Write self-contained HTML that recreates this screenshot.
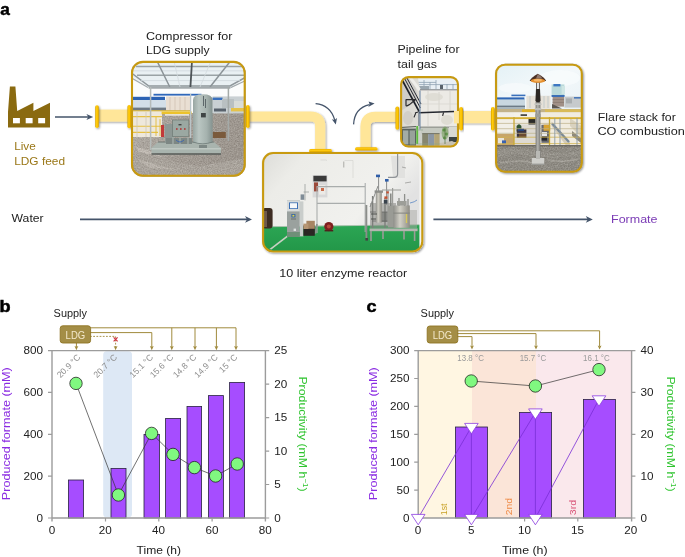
<!DOCTYPE html>
<html><head><meta charset="utf-8"><title>Figure</title>
<style>
html,body{margin:0;padding:0;background:#fff;overflow:hidden;}
svg{display:block;font-family:"Liberation Sans", sans-serif;}
</style></head><body>
<svg width="685" height="557" viewBox="0 0 685 557">
<defs>
<linearGradient id="flg" x1="0" y1="0" x2="1" y2="0">
<stop offset="0" stop-color="#d9a300"/><stop offset="0.38" stop-color="#ffcd0a"/><stop offset="0.62" stop-color="#ffc400"/><stop offset="1" stop-color="#cf9b00"/>
</linearGradient>
<linearGradient id="flgv" x1="0" y1="0" x2="0" y2="1">
<stop offset="0" stop-color="#f0b400"/><stop offset="0.45" stop-color="#ffc90a"/><stop offset="1" stop-color="#dfa300"/>
</linearGradient>
<filter id="sh" x="-10%" y="-10%" width="125%" height="125%">
<feGaussianBlur in="SourceAlpha" stdDeviation="1.1"/><feOffset dx="1" dy="1.3" result="o"/>
<feComponentTransfer><feFuncA type="linear" slope="0.45"/></feComponentTransfer>
<feMerge><feMergeNode/><feMergeNode in="SourceGraphic"/></feMerge>
</filter>
<filter id="sh2" x="-10%" y="-10%" width="125%" height="125%">
<feGaussianBlur in="SourceAlpha" stdDeviation="0.9"/><feOffset dx="0.8" dy="1.2" result="o"/>
<feComponentTransfer><feFuncA type="linear" slope="0.4"/></feComponentTransfer>
<feMerge><feMergeNode/><feMergeNode in="SourceGraphic"/></feMerge>
</filter>
<filter id="nz" x="0" y="0" width="100%" height="100%" color-interpolation-filters="sRGB"><feTurbulence type="fractalNoise" baseFrequency="0.85" numOctaves="2" seed="4"/><feColorMatrix type="matrix" values="0 0 0 0 0.32  0 0 0 0 0.29  0 0 0 0 0.27  0.3 0.3 0.3 0 -0.37"/></filter>
<filter id="nzl" x="0" y="0" width="100%" height="100%" color-interpolation-filters="sRGB"><feTurbulence type="fractalNoise" baseFrequency="0.7" numOctaves="2" seed="9"/><feColorMatrix type="matrix" values="0 0 0 0 0.95  0 0 0 0 0.94  0 0 0 0 0.92  0.3 0.3 0.3 0 -0.376"/></filter>
</defs>
<text x="0" y="0" font-size="17.2" font-weight="bold" fill="#000" stroke="#000" stroke-width="0.5" transform="translate(0.2 14.5) scale(1.0 1)">a</text>
<path d="M8,127.5 L8,112 L9.9,86.5 L15.4,86.5 L17.2,111 L33.4,102.8 L33.4,111 L50,102.8 L50,127.5 Z" fill="#8a6a10"/>
<rect x="13" y="118" width="6.9" height="5.3" fill="#fff"/>
<rect x="25.7" y="118" width="6.9" height="5.3" fill="#fff"/>
<rect x="38.2" y="118" width="6.9" height="5.3" fill="#fff"/>
<text x="14.2" y="150.4" font-size="11.8" fill="#9a7717" textLength="21.6" lengthAdjust="spacingAndGlyphs">Live</text>
<text x="14.2" y="164.6" font-size="11.8" fill="#9a7717" textLength="50.8" lengthAdjust="spacingAndGlyphs">LDG feed</text>
<path d="M55,117 L89.12,117" stroke="#44546a" stroke-width="1.6" fill="none"/>
<path d="M93.2,117 L86.4,113.9 L88.304,117 L86.4,120.1 Z" fill="#44546a"/>
<g filter="url(#sh2)">
<rect x="98" y="109.6" width="31" height="12" fill="#ffe699"/>
<path d="M248,116.5 L310.6,116.5 Q320.2,116.5 320.2,126 L320.2,150" stroke="#ffe699" stroke-width="10.2" fill="none"/>
<path d="M365.5,148 L365.5,126.6 Q365.5,116.9 375.2,116.9 L397,116.9" stroke="#ffe699" stroke-width="10.2" fill="none"/>
<rect x="461" y="111" width="32" height="12.2" fill="#ffe699"/>
</g>
<g filter="url(#sh2)">
<rect x="95.2" y="105.2" width="3.6" height="22.799999999999997" rx="1.8" fill="url(#flg)"/>
<rect x="127.4" y="105" width="3.6" height="23.30000000000001" rx="1.8" fill="url(#flg)"/>
<rect x="246" y="105" width="3.6" height="23" rx="1.8" fill="url(#flg)"/>
<rect x="309" y="149" width="23" height="3.4" rx="1.7" fill="url(#flgv)"/>
<rect x="355" y="147.2" width="22.600000000000023" height="3.4" rx="1.7" fill="url(#flgv)"/>
<rect x="395.5" y="106.4" width="3.6" height="23.400000000000006" rx="1.8" fill="url(#flg)"/>
<rect x="491" y="107.1" width="3.7" height="23.30000000000001" rx="1.85" fill="url(#flg)"/>
</g>
<path d="M315.6,103.6 Q330.5,105 334.7,120" stroke="#44546a" stroke-width="1.25" fill="none"/>
<path d="M335.8,124.4 L331.8,119.2 L334.5,120 L337,118 Z" fill="#44546a"/>
<path d="M353.6,124.4 Q354.5,108 369.6,104.7" stroke="#44546a" stroke-width="1.25" fill="none"/>
<path d="M374.6,103.6 L368.6,101.6 L369.7,104.5 L368.2,107 Z" fill="#44546a"/>
<text x="11.6" y="222" font-size="11.8" fill="#222" textLength="32" lengthAdjust="spacingAndGlyphs">Water</text>
<path d="M80,219.4 L247.8,219.4" stroke="#44546a" stroke-width="1.7" fill="none"/>
<path d="M252,219.4 L245,216.1 L246.96,219.4 L245,222.70000000000002 Z" fill="#44546a"/>
<path d="M433.4,219.4 L588.5999999999999,219.4" stroke="#44546a" stroke-width="1.7" fill="none"/>
<path d="M592.8,219.4 L585.8,216.1 L587.76,219.4 L585.8,222.70000000000002 Z" fill="#44546a"/>
<text x="611" y="223.3" font-size="11.8" fill="#7a3ab5" textLength="46.5" lengthAdjust="spacingAndGlyphs">Formate</text>
<text x="146" y="40" font-size="11.8" fill="#222" textLength="86.4" lengthAdjust="spacingAndGlyphs">Compressor for</text>
<text x="146" y="53.6" font-size="11.8" fill="#222" textLength="63.6" lengthAdjust="spacingAndGlyphs">LDG supply</text>
<text x="397.6" y="53" font-size="11.8" fill="#222" textLength="62" lengthAdjust="spacingAndGlyphs">Pipeline for</text>
<text x="397.6" y="68" font-size="11.8" fill="#222" textLength="39.4" lengthAdjust="spacingAndGlyphs">tail gas</text>
<text x="597.8" y="120.6" font-size="11.8" fill="#222" textLength="78" lengthAdjust="spacingAndGlyphs">Flare stack for</text>
<text x="597.4" y="134.6" font-size="11.8" fill="#222" textLength="87.4" lengthAdjust="spacingAndGlyphs">CO combustion</text>
<text x="279.2" y="277.3" font-size="11.8" fill="#222" textLength="128" lengthAdjust="spacingAndGlyphs">10 liter enzyme reactor</text>
<rect x="131" y="60.9" width="114.7" height="115.9" rx="12" fill="#a8a199"/>
<clipPath id="cp1"><rect x="132" y="61.9" width="112.7" height="113.9" rx="11"/></clipPath>
<g clip-path="url(#cp1)">
<linearGradient id="p1g" x1="0" y1="0" x2="1" y2="0.3"><stop offset="0" stop-color="#b4afa8"/><stop offset="0.55" stop-color="#a29b93"/><stop offset="1" stop-color="#9b948c"/></linearGradient>
<linearGradient id="tank" x1="0" y1="0" x2="1" y2="0"><stop offset="0" stop-color="#98a6a2"/><stop offset="0.3" stop-color="#bac6c2"/><stop offset="0.7" stop-color="#a5b2ae"/><stop offset="1" stop-color="#84928f"/></linearGradient>
<rect x="131" y="61" width="116" height="60" fill="#fbfcfc"/>
<rect x="131" y="113" width="116" height="65" fill="url(#p1g)"/>
<path d="M131,150 L160,160 L200,166 L246,158 L246,178 L131,178 Z" fill="#aaa49c"/>
<path d="M134,146 L150,151 L165,158 L140,152 Z" fill="#c4beb6"/>
<path d="M135,158 L160,166 L180,170 L150,168 Z" fill="#bab4ac"/>
<rect x="131" y="113" width="116" height="65" fill="#000" filter="url(#nz)"/>
<rect x="131" y="113" width="116" height="65" fill="#000" filter="url(#nzl)"/>
<rect x="131" y="100" width="35" height="8" fill="#d3dfe8"/>
<rect x="131" y="96.8" width="34" height="3.2" fill="#2b62b3"/>
<rect x="153.5" y="93.8" width="48" height="1.8" fill="#2f68ba"/>
<rect x="131" y="107.6" width="35" height="3" fill="#6f7a84"/>
<rect x="166" y="96.4" width="24" height="15" fill="#e9dfd3"/>
<path d="M170,97 V111 M175,97 V111 M180,97 V111 M185,97 V111" fill="none" stroke="#c9b9a8" stroke-width="0.6"/>
<rect x="212.5" y="96.4" width="34" height="17" fill="#c9d0d3"/>
<rect x="212.5" y="97.6" width="10" height="2.4" fill="#3a70bd"/>
<rect x="222" y="99" width="12" height="9" fill="#b9c0c2"/>
<rect x="234" y="101" width="12" height="8" fill="#d9dcd8"/>
<rect x="214" y="108.5" width="12" height="3" fill="#59626c"/>
<rect x="231" y="108" width="15" height="3.4" fill="#e5c24a"/>
<rect x="131" y="111" width="31" height="26" fill="#eee8dc"/>
<path d="M131,116.6 H162 M131,126.2 H162 M131,132.4 H158" fill="none" stroke="#e6c043" stroke-width="1.1"/>
<path d="M137,112 V137 M146,112 V137" fill="none" stroke="#cfc8b8" stroke-width="0.8"/>
<rect x="131" y="110.2" width="60" height="1.1" fill="#d5b23a"/>
<rect x="161.6" y="111.4" width="30" height="2.8" fill="#ecc22c"/>
<rect x="165" y="114.2" width="24" height="1.4" fill="#f5f1e6"/>
<path d="M156,117 V136 M160,119 V136" fill="none" stroke="#e0bb3a" stroke-width="0.9"/>
<path d="M131,61 H247 V78 L230,87.2 H148.6 L131,76 Z" fill="#e9f0f3"/>
<path d="M131,72.6 L148.8,86 H230 L247,76.6" fill="none" stroke="#8f979b" stroke-width="1.5"/>
<path d="M131,77.6 L148,87.6 M230.6,87.6 L247,80" fill="none" stroke="#a4abae" stroke-width="1.2"/>
<path d="M136,66.6 H247 M137,75.2 H247" fill="none" stroke="#9aa2a5" stroke-width="1.5"/>
<path d="M134,70.8 H247 M141,80.6 H240" fill="none" stroke="#cfd8dc" stroke-width="0.8"/>
<path d="M157,61 L169.8,87 M230.5,61 L210,87" fill="none" stroke="#8c9498" stroke-width="1.5"/>
<path d="M174,61 L180,87 M211,61 L200,87" fill="none" stroke="#d3dbde" stroke-width="0.8"/>
<path d="M192,61 L190.4,87" fill="none" stroke="#4e5458" stroke-width="1.8"/>
<path d="M148.6,87.9 H230.4" fill="none" stroke="#a3aaad" stroke-width="1.8"/>
<path d="M150.6,87 V150" fill="none" stroke="#b5bbb9" stroke-width="1.5"/>
<path d="M228.4,87 V141" fill="none" stroke="#a4aaa8" stroke-width="1.5"/>
<path d="M190.6,94 V141" fill="none" stroke="#b9c4c8" stroke-width="1.3"/>
<rect x="212.8" y="132" width="13" height="6" fill="#7a5a3c"/>
<path d="M151.5,148 L158,142 H214 L221,148 V153.4 H151.5 Z" fill="#a9b4ae"/>
<rect x="151.5" y="148.2" width="69.5" height="1.2" fill="#c5cec9"/>
<rect x="151.5" y="153.2" width="69.5" height="1.6" fill="#5d625e"/>
<path d="M158,142 H214" fill="none" stroke="#6c7470" stroke-width="1"/>
<rect x="165" y="124" width="9" height="19" fill="#8d9894"/>
<rect x="166" y="138" width="26" height="6" fill="#7d8784"/>
<rect x="161" y="125" width="3" height="12" fill="#c23a3a"/>
<rect x="172.6" y="120" width="16.2" height="16.6" fill="#9ba8a2"/>
<rect x="172.6" y="120" width="16.2" height="16.6" fill="none" stroke="#6f7b76" stroke-width="0.7"/>
<rect x="178.5" y="124" width="3" height="1.4" fill="#444"/>
<path d="M176,129 h1.6 M180,129 h1.6 M184,129 h1.6" fill="none" stroke="#b03030" stroke-width="1.4"/>
<path d="M173,137 V148 M188,137 V148 M180,137 V148" fill="none" stroke="#a8b2ad" stroke-width="1.2"/>
<path d="M176,140 q4,4 8,0" fill="none" stroke="#3d68b0" stroke-width="0.9"/>
<path d="M193,142 V100 Q193,94.2 202.8,94.2 Q212.6,94.2 212.6,100 V142 Q202.8,145.4 193,142 Z" fill="url(#tank)"/>
<path d="M193,142 Q202.8,145.6 212.6,142" fill="none" stroke="#6f7b78" stroke-width="0.8"/>
<rect x="201" y="113" width="4.8" height="4.4" fill="#3f4545"/>
<path d="M203.5,96 V106 M205.5,99 V108" fill="none" stroke="#555f62" stroke-width="0.9"/>
<rect x="199" y="145" width="8" height="3" fill="#7d8885"/>
</g>
<rect x="132" y="61.9" width="112.7" height="113.9" rx="11" fill="none" stroke="#c89a10" stroke-width="2.1"/>
<rect x="262.1" y="152" width="161.2" height="100.5" rx="11" fill="#e8e8e4" filter="url(#sh)"/>
<clipPath id="cp2"><rect x="263.1" y="153" width="159.2" height="98.5" rx="10"/></clipPath>
<g clip-path="url(#cp2)">
<linearGradient id="wall" x1="0" y1="0" x2="1" y2="0.4"><stop offset="0" stop-color="#dcdcd8"/><stop offset="0.25" stop-color="#ececE8"/><stop offset="0.8" stop-color="#f1f1ee"/><stop offset="1" stop-color="#e2e2e2"/></linearGradient>
<linearGradient id="flr" x1="0" y1="0" x2="0" y2="1"><stop offset="0" stop-color="#2ca654"/><stop offset="1" stop-color="#229648"/></linearGradient>
<linearGradient id="steel" x1="0" y1="0" x2="1" y2="0"><stop offset="0" stop-color="#8f8f8a"/><stop offset="0.4" stop-color="#d2d0c6"/><stop offset="1" stop-color="#8e8c84"/></linearGradient>
<rect x="262" y="151" width="163" height="76" fill="url(#wall)"/>
<path d="M262,226.6 L424,224.4 V253 H262 Z" fill="url(#flr)"/>
<path d="M262,226.8 L424,224.6" fill="none" stroke="#bfc7bd" stroke-width="0.8"/>
<path d="M320.5,160 h6 v0.6 M344.5,160.5 h8.5 V178" fill="none" stroke="#d0d0cc" stroke-width="0.6"/>
<rect x="343" y="161.5" width="1.4" height="6" fill="#bdbdb9"/>
<path d="M391,156 h14 v22 h-12 z" fill="#e1e1df"/>
<path d="M397.6,152 V174 Q397.6,177.4 394,177.4 H388" fill="none" stroke="#8f9397" stroke-width="1.2"/>
<path d="M402,167 l4,1 M405,183 l6,-1" fill="none" stroke="#9a9a98" stroke-width="0.8"/>
<rect x="262" y="208" width="10.6" height="20.4" fill="#3d2c22" rx="3"/>
<rect x="264" y="211" width="3" height="16" fill="#6e5a4c"/>
<path d="M287,235.4 L269.4,249 L271.4,249.6 L289,236 Z" fill="#c9cfc3"/>
<rect x="312.6" y="175" width="14.8" height="22.4" fill="#d9d9d9"/>
<rect x="313.4" y="175.8" width="13.2" height="5.6" fill="#3a3a3a"/>
<rect x="314" y="182.4" width="4" height="9" fill="#9b4a3a"/>
<rect x="319" y="185" width="6.4" height="9.6" fill="#eceae6"/>
<rect x="321" y="188" width="3" height="3" fill="#c96a4a"/>
<path d="M317,186.6 V233 M316.6,186.6 H365.4 M317,203.4 H365.4 M365.2,183 V232" fill="none" stroke="#a9adac" stroke-width="1.1"/>
<path d="M317,224 l-1.6,9.6" fill="none" stroke="#8c908f" stroke-width="1.6"/>
<rect x="287" y="200.4" width="12.8" height="36.6" fill="#9aa19e"/>
<rect x="299.8" y="201.4" width="3.6" height="35" fill="#c9cdcb"/>
<rect x="287" y="200.4" width="12.8" height="11" fill="#d7dbdb"/>
<rect x="289" y="202.4" width="9" height="6.6" fill="#3d6fb3"/>
<rect x="290" y="203.2" width="7" height="5" fill="#f6f8fa"/>
<rect x="291.4" y="214" width="4" height="3.4" fill="#2f62a8"/>
<rect x="292.4" y="214.8" width="2" height="1.8" fill="#e6d24a"/>
<rect x="291" y="218.6" width="5" height="0.8" fill="#5d6462"/>
<rect x="293.6" y="228.6" width="2.4" height="2.4" fill="#dfe3e1"/>
<rect x="287" y="232" width="12.8" height="5" fill="#6f8f78"/>
<path d="M305,184 V200.4 M303.6,192 h5.4" fill="none" stroke="#9a9e9d" stroke-width="0.8"/>
<rect x="300.6" y="194.4" width="3.6" height="5.4" fill="#7f8c96"/>
<rect x="303.4" y="225.4" width="11.4" height="10.4" fill="#2b2724"/>
<rect x="306.4" y="220.8" width="8.4" height="8" fill="#a78563"/>
<rect x="303.4" y="223.6" width="5" height="5.4" fill="#b79673"/>
<circle cx="328.8" cy="226.6" r="4.6" fill="#7e1f1f"/><circle cx="328.8" cy="226.6" r="2" fill="#b54a3a"/>
<rect x="324.6" y="230" width="8.6" height="1.4" fill="#50201c"/>
<rect x="369.6" y="228.4" width="48" height="2.8" fill="#b5b6b1"/>
<path d="M371,231 V241 M383,231 V239 M404,231 V239.6 M414.6,231 V241" fill="none" stroke="#9b9c98" stroke-width="1.6"/>
<path d="M366.4,205 V238" fill="none" stroke="#8b8d8a" stroke-width="1.8"/>
<rect x="365.4" y="238" width="2.6" height="2.6" fill="#444"/>
<rect x="370" y="203" width="26" height="25.4" fill="#8f908a" opacity="0.6"/>
<rect x="396" y="210" width="21" height="18" fill="#a9aaa4" opacity="0.5"/>
<path d="M372.6,196 V228 M385,198 V228 M390.8,193.6 V226" fill="none" stroke="#7d7f7b" stroke-width="1.4"/>
<path d="M370,212 H396 M372,221 H394" fill="none" stroke="#6f716d" stroke-width="0.9"/>
<rect x="379" y="212" width="10" height="10" fill="#5f615e" opacity="0.5"/>
<rect x="375.8" y="191.6" width="6" height="31" fill="url(#steel)"/>
<rect x="374.6" y="190.4" width="8.4" height="2.4" fill="#8d8e89"/>
<path d="M378.6,176 V191 M370,207 L378,186 M386.6,181 V205" fill="none" stroke="#8a8c8a" stroke-width="1"/>
<rect x="376" y="174.6" width="4" height="2.6" fill="#2f5ea8"/>
<rect x="385" y="179" width="3.6" height="2.6" fill="#2f5ea8"/>
<path d="M382,190 H401 M388,190 V226 M392.6,188 V212" fill="none" stroke="#9c9d99" stroke-width="1.2"/>
<rect x="384.4" y="196.4" width="3" height="2.4" fill="#c8502e"/>
<rect x="386.4" y="191.4" width="2.4" height="2" fill="#c8502e"/>
<rect x="383.8" y="200" width="3.6" height="3.6" fill="#39434d"/>
<rect x="388" y="206" width="7" height="21.4" fill="#9a9b95"/>
<rect x="393.4" y="205.4" width="16.4" height="22.4" fill="url(#steel)"/>
<rect x="393.4" y="212.6" width="16.4" height="1" fill="#84857f"/>
<rect x="405.8" y="214" width="1.4" height="9" fill="#d8c75a"/>
<path d="M399,198 V206 M404.6,194 V206 M408,199 V206" fill="none" stroke="#8e908c" stroke-width="1.3"/>
<path d="M410,203 q5,-1 7,-3" fill="none" stroke="#5a86c4" stroke-width="0.8"/>
<rect x="397" y="201" width="9.6" height="4.6" fill="#9d9e98"/>
<path d="M371,214 h6 M371,219 h5" fill="none" stroke="#50524f" stroke-width="1.2"/>
<rect x="419.4" y="151" width="3" height="102" fill="#f4f4f2"/>
</g>
<rect x="263.1" y="153" width="159.2" height="98.5" rx="10" fill="none" stroke="#c89a10" stroke-width="2.1"/>
<rect x="400.1" y="76.1" width="58.9" height="71.4" rx="8.5" fill="#dcdad4"/>
<clipPath id="cp3"><rect x="401.1" y="77.1" width="56.9" height="69.4" rx="7.5"/></clipPath>
<g clip-path="url(#cp3)">
<rect x="399" y="76" width="61" height="72" fill="#e3e1dc"/>
<rect x="417.6" y="76" width="42" height="14" fill="#e9f0f5"/>
<path d="M418,82.4 H436 M418,84.6 H458 M424,80 V89 M430,82 V89 M436,80 V89 M447,84 V89 M453,84 V89" fill="none" stroke="#8fa2b3" stroke-width="0.8"/>
<rect x="419" y="86" width="10" height="3.4" fill="#9aa7b0"/>
<rect x="440" y="85" width="3" height="4" fill="#59626b"/>
<path d="M399,76 H417.6 L420,90 V127 L399,131 Z" fill="#dedcd6"/>
<path d="M399,76 H412 L419,100 L399,112 Z" fill="#cfcdc8"/>
<path d="M409,76 L419.6,90" fill="none" stroke="#efeeea" stroke-width="3"/>
<rect x="420" y="90" width="40" height="37" fill="#eceae5"/>
<path d="M420,89.8 H459" fill="none" stroke="#6f7376" stroke-width="0.9"/>
<path d="M428,91 V126 M439,92 V120 M450,91 V112" fill="none" stroke="#d3d0c9" stroke-width="0.8"/>
<path d="M420,104 H459" fill="none" stroke="#d9d6cf" stroke-width="0.7"/>
<ellipse cx="408" cy="118" rx="5" ry="7" fill="#c9c6be" opacity="0.6"/><ellipse cx="434" cy="97" rx="9" ry="4" fill="#dad7cf" opacity="0.7"/><ellipse cx="447" cy="120" rx="6" ry="5" fill="#d9d5cc" opacity="0.7"/>
<path d="M399,131 L420,127 H460 V148 H399 Z" fill="#cdd0c9"/>
<rect x="401.6" y="128.6" width="14.4" height="17" fill="#59635f"/>
<rect x="403" y="130.4" width="5.4" height="14" fill="#a3aca5"/>
<rect x="409.6" y="130.4" width="5.4" height="14" fill="#98a29b"/>
<path d="M401.6,127.4 L416,126.6" fill="none" stroke="#4f5651" stroke-width="1"/>
<rect x="420" y="126.6" width="40" height="1.2" fill="#83877f"/>
<rect x="421" y="127.8" width="38" height="6" fill="#c5c9c0"/>
<rect x="422.2" y="133.8" width="6" height="12" fill="#86866f"/>
<rect x="428.2" y="133.8" width="6" height="12" fill="#8c97a4"/>
<rect x="434.2" y="133.8" width="5.4" height="12" fill="#b3a577"/>
<path d="M422.2,133.6 H439.6" fill="none" stroke="#5f604e" stroke-width="0.8"/>
<rect x="449" y="127" width="10" height="10" fill="#d9dad4"/>
<rect x="449" y="137" width="10" height="5" fill="#3c4444"/>
<path d="M440,143 l12,-2 l6,3 v3 h-18 z" fill="#c7c2b4"/>
<ellipse cx="445" cy="133" rx="3.4" ry="6.6" fill="#6f9a52" opacity="0.55"/><circle cx="444" cy="130" r="1.6" fill="#4f8a3a" opacity="0.8"/><circle cx="446.4" cy="134" r="1.5" fill="#4f8a3a" opacity="0.8"/><circle cx="444.4" cy="138" r="1.4" fill="#4f8a3a" opacity="0.8"/>
<path d="M445,128 V144" fill="none" stroke="#55733f" stroke-width="0.7"/>
<path d="M401.6,79 L419.2,111.6" fill="none" stroke="#1d2129" stroke-width="1.7"/>
<path d="M404,77.4 L420.4,108 M406.4,77 L421,104" fill="none" stroke="#262a33" stroke-width="1"/>
<path d="M419,112.8 L454,111.4" fill="none" stroke="#23262e" stroke-width="1.5"/>
<path d="M405.6,99.6 H416 M406,100 V105 Q406,107 409.5,104.6 L415,100" fill="none" stroke="#2b2b2e" stroke-width="1.2"/>
<path d="M415.6,113.4 l-1.6,4 M443.6,112.4 l-1,3.4 M418,112 l-3,1" fill="none" stroke="#2b2b2e" stroke-width="1.2"/>
<path d="M420,90.6 V129.6" fill="none" stroke="#6e88a6" stroke-width="1.1"/>
<path d="M418.8,112 V126" fill="none" stroke="#4f5f72" stroke-width="0.8"/>
<path d="M417.2,126 V144" fill="none" stroke="#5fbb3e" stroke-width="1.9"/>
<path d="M415,130 H423 M410,144 H440" fill="none" stroke="#8fa58a" stroke-width="0.6"/>
</g>
<rect x="401.1" y="77.1" width="56.9" height="69.4" rx="7.5" fill="none" stroke="#c89a10" stroke-width="2.1"/>
<rect x="454" y="111" width="6" height="12.4" fill="#ffe699"/>
<g filter="url(#sh2)">
<rect x="459.2" y="107.1" width="3.8" height="23.30000000000001" rx="1.9" fill="url(#flg)"/>
</g>
<rect x="495.1" y="63.7" width="87.7" height="109.1" rx="10" fill="#a9a79d" filter="url(#sh)"/>
<clipPath id="cp4"><rect x="496.1" y="64.7" width="85.7" height="107.1" rx="9"/></clipPath>
<g clip-path="url(#cp4)">
<linearGradient id="sky4" x1="0" y1="0" x2="1" y2="1"><stop offset="0" stop-color="#e3f1f6"/><stop offset="0.5" stop-color="#f3f8fa"/><stop offset="1" stop-color="#e9f2f6"/></linearGradient>
<linearGradient id="pole" x1="0" y1="0" x2="1" y2="0"><stop offset="0" stop-color="#7c7c78"/><stop offset="0.45" stop-color="#b4b4b0"/><stop offset="1" stop-color="#767672"/></linearGradient>
<rect x="495" y="63" width="89" height="48" fill="url(#sky4)"/>
<ellipse cx="560" cy="78" rx="20" ry="8" fill="#f8fbfc" opacity="0.8"/><ellipse cx="515" cy="88" rx="16" ry="5" fill="#f6fafb" opacity="0.8"/>
<rect x="495" y="99" width="30" height="7" fill="#c9d7e0"/>
<rect x="495" y="97.4" width="29.4" height="2" fill="#2f66b4"/>
<rect x="511.4" y="94.6" width="14" height="1.6" fill="#3a70bb"/>
<rect x="495" y="105.6" width="30" height="1.4" fill="#6d7a86"/>
<rect x="495" y="107" width="30" height="3" fill="#a9b6bd"/>
<rect x="526.4" y="95.8" width="24" height="13" fill="#e6e1d8"/>
<path d="M530,96 V108 M544,96 V108 M548,96 V108" fill="none" stroke="#b9c4c8" stroke-width="0.8"/>
<rect x="551.6" y="84.4" width="12.8" height="11.6" fill="#b9d9da"/>
<rect x="553.4" y="84" width="7" height="2.4" fill="#3e78c2"/>
<rect x="561.6" y="86" width="3.4" height="8" fill="#cfe6e4"/>
<rect x="551.6" y="95" width="13" height="2" fill="#3b6fb6"/>
<rect x="552.6" y="97" width="11.4" height="9.6" fill="#a19087"/>
<path d="M552.6,99.6 h11.4 M552.6,102.4 h11.4" fill="none" stroke="#7f7068" stroke-width="0.6"/>
<rect x="564.4" y="96.6" width="19" height="11" fill="#c6cacc"/>
<rect x="566" y="98.4" width="6" height="5" fill="#a9aeb0"/>
<rect x="574" y="97" width="9" height="1.6" fill="#4a78b8"/>
<path d="M552,104 l10,4.6 h-10 z" fill="#5d5752"/>
<rect x="495" y="109" width="89" height="3.6" fill="#c2b28a"/>
<rect x="522" y="109.4" width="13" height="3" fill="#e0b226"/>
<rect x="545" y="109.4" width="39" height="3" fill="#d9bb58"/>
<rect x="495" y="112.4" width="89" height="33.4" fill="#efebe0"/>
<rect x="495" y="112.4" width="19" height="22" fill="#f2efe7"/>
<rect x="495" y="134" width="19" height="11.6" fill="#c7a56a"/>
<rect x="498" y="138" width="6" height="6" fill="#e9e4d8"/>
<rect x="502" y="140.4" width="4" height="3.6" fill="#3a62b0"/>
<rect x="514" y="112.4" width="22" height="8" fill="#f4f1e8"/>
<rect x="520.6" y="114.2" width="6.4" height="1.8" fill="#4a4a46"/>
<rect x="528.5" y="118.8" width="7" height="6" fill="#2b2b29"/>
<rect x="514" y="124.6" width="22" height="21" fill="#dedad2"/>
<path d="M516.6,131.4 V126 Q519,122.6 521.4,126 V131.4 Z" fill="#2f5230"/>
<rect x="516.8" y="129.4" width="9.6" height="8.4" fill="#3a3340"/>
<rect x="518" y="128.6" width="6" height="2.4" fill="#27447e"/>
<rect x="519" y="133" width="7" height="4" fill="#6a4a30"/>
<rect x="541" y="112.4" width="43" height="33" fill="#f1ecdf"/>
<rect x="541.4" y="124.8" width="7.6" height="18" fill="#3b3f4a" opacity="0.75"/>
<rect x="543.6" y="124.7" width="6.6" height="6" fill="#d9a332"/>
<rect x="542" y="132" width="5" height="4" fill="#e8e8ea"/>
<rect x="541.6" y="137" width="5.4" height="3.6" fill="#26262a"/>
<path d="M551.5,121.4 L570,141.8 V145.6 H566 L551.5,126 Z" fill="#d3ccba"/>
<path d="M552,123.4 L569,142" fill="none" stroke="#7a8a98" stroke-width="2.2"/>
<path d="M570,118 L584,128 V140 L570,126 Z" fill="#d9d2bf"/>
<path d="M572,131 l9,7 v5 l-9,-7 z" fill="#8f8a7c"/>
<rect x="495" y="117.2" width="89" height="1.9" fill="#d6b034"/>
<path d="M495,123.4 H584 M495,128.7 H584 M495,133.3 H584" fill="none" stroke="#bdb28a" stroke-width="0.7"/>
<path d="M495,137.2 H584 M495,143.6 H584" fill="none" stroke="#d0b450" stroke-width="0.8"/>
<path d="M514,117 V145.6 M549.5,117 V145.6" fill="none" stroke="#c9a935" stroke-width="1.3"/>
<path d="M554.8,118 V145.6 M560,118 V145.6 M577,118 V145.6" fill="none" stroke="#8a9aa6" stroke-width="0.9"/>
<rect x="495" y="145.4" width="89" height="28" fill="#8a877f"/>
<rect x="495" y="145.2" width="89" height="1.2" fill="#5c5b56"/>
<path d="M495,150 q20,-3 40,1 t48,-1 v6 q-30,3 -50,0 t-38,2 z" fill="#918e86"/>
<path d="M500,163 q20,-4 34,0 M548,160 q16,3 30,-1" fill="none" stroke="#a3a098" stroke-width="1.4"/>
<rect x="495" y="146.4" width="89" height="27" fill="#000" filter="url(#nz)"/>
<rect x="495" y="146.4" width="89" height="27" fill="#000" filter="url(#nzl)"/>
<rect x="535.6" y="102" width="4.8" height="58" fill="url(#pole)"/>
<rect x="534.4" y="103.4" width="7.2" height="1.6" fill="#c4c4c0"/>
<rect x="534.8" y="108" width="6.4" height="2.2" fill="#bdbdb8"/>
<rect x="535.2" y="113.6" width="5.6" height="3.4" fill="#9d9d98"/>
<path d="M536,89 H540 L540.6,101 Q538,104 535.4,101 Z" fill="#2b2724"/>
<path d="M536.6,81 V90 M539.4,81 V90" fill="none" stroke="#3a302a" stroke-width="0.8"/>
<path d="M529.6,80.8 Q531.6,77.4 537.8,73.8 Q544.2,77.4 546.2,80.8 Q538,84 529.6,80.8 Z" fill="#4a2f24"/>
<ellipse cx="537.9" cy="80.7" rx="7.2" ry="2.1" fill="#e8912e"/>
<ellipse cx="537.9" cy="80.2" rx="4" ry="1.2" fill="#f7c27a" opacity="0.8"/>
<path d="M537.8,74 Q541,76 542.6,78.6 L536,78.4 Z" fill="#a99286" opacity="0.75"/>
<rect x="531.8" y="158" width="12.4" height="7" fill="#cfcfcb"/>
<rect x="531.8" y="163.6" width="12.4" height="1.4" fill="#9b9b97"/>
<rect x="536" y="151" width="4" height="8" fill="#b9b9b5"/>
</g>
<rect x="496.1" y="64.7" width="85.7" height="107.1" rx="9" fill="none" stroke="#c89a10" stroke-width="2.1"/>
<text x="0" y="0" font-size="16.2" font-weight="bold" fill="#000" stroke="#000" stroke-width="0.5" transform="translate(-0.6 311.9) scale(1.12 1)">b</text>
<text x="53.6" y="317.2" font-size="10" fill="#222" textLength="33.4" lengthAdjust="spacingAndGlyphs">Supply</text>
<rect x="103.2" y="351.2" width="28.8" height="166" rx="3.5" fill="#dde8f5"/>
<rect x="68.4" y="480" width="15.2" height="38" fill="#a64dff" stroke="#2a2440" stroke-width="0.8"/>
<rect x="111" y="468.4" width="15" height="49.6" fill="#a64dff" stroke="#2a2440" stroke-width="0.8"/>
<rect x="144" y="434.4" width="15.4" height="83.6" fill="#a64dff" stroke="#2a2440" stroke-width="0.8"/>
<rect x="165.6" y="418.4" width="15.0" height="99.6" fill="#a64dff" stroke="#2a2440" stroke-width="0.8"/>
<rect x="187" y="406.4" width="14.6" height="111.6" fill="#a64dff" stroke="#2a2440" stroke-width="0.8"/>
<rect x="208.4" y="395.6" width="15.0" height="122.4" fill="#a64dff" stroke="#2a2440" stroke-width="0.8"/>
<rect x="229.6" y="382.4" width="15.0" height="135.6" fill="#a64dff" stroke="#2a2440" stroke-width="0.8"/>
<path d="M52,350.6 L265.4,350.6 M52,518 L265.4,518 M52,350 L52,521.6 M265.4,350 L265.4,521.6" stroke="#9c9c9c" stroke-width="1.4" fill="none"/>
<path d="M48,518.0 L52,518.0 M48,476.15 L52,476.15 M48,434.3 L52,434.3 M48,392.45 L52,392.45 M48,350.6 L52,350.6 M265.4,518.0 L269.2,518.0 M265.4,484.52 L269.2,484.52 M265.4,451.04 L269.2,451.04 M265.4,417.56 L269.2,417.56 M265.4,384.08 L269.2,384.08 M265.4,350.6 L269.2,350.6 M105.5,518 L105.5,521.6 M158.8,518 L158.8,521.6 M212.1,518 L212.1,521.6 " stroke="#9c9c9c" stroke-width="1.2" fill="none"/>
<text x="43" y="521.6" font-size="10" fill="#222" text-anchor="end" textLength="6.5" lengthAdjust="spacingAndGlyphs">0</text>
<text x="43" y="479.75" font-size="10" fill="#222" text-anchor="end" textLength="19.5" lengthAdjust="spacingAndGlyphs">200</text>
<text x="43" y="437.9" font-size="10" fill="#222" text-anchor="end" textLength="19.5" lengthAdjust="spacingAndGlyphs">400</text>
<text x="43" y="396.05" font-size="10" fill="#222" text-anchor="end" textLength="19.5" lengthAdjust="spacingAndGlyphs">600</text>
<text x="43" y="354.2" font-size="10" fill="#222" text-anchor="end" textLength="19.5" lengthAdjust="spacingAndGlyphs">800</text>
<text x="274.2" y="521.6" font-size="10" fill="#222" textLength="6.5" lengthAdjust="spacingAndGlyphs">0</text>
<text x="274.2" y="488.12" font-size="10" fill="#222" textLength="6.5" lengthAdjust="spacingAndGlyphs">5</text>
<text x="274.2" y="454.64" font-size="10" fill="#222" textLength="13.0" lengthAdjust="spacingAndGlyphs">10</text>
<text x="274.2" y="421.16" font-size="10" fill="#222" textLength="13.0" lengthAdjust="spacingAndGlyphs">15</text>
<text x="274.2" y="387.68" font-size="10" fill="#222" textLength="13.0" lengthAdjust="spacingAndGlyphs">20</text>
<text x="274.2" y="354.2" font-size="10" fill="#222" textLength="13.0" lengthAdjust="spacingAndGlyphs">25</text>
<text x="52.0" y="534" font-size="10" fill="#222" text-anchor="middle" textLength="6.5" lengthAdjust="spacingAndGlyphs">0</text>
<text x="105.3" y="534" font-size="10" fill="#222" text-anchor="middle" textLength="13.0" lengthAdjust="spacingAndGlyphs">20</text>
<text x="158.6" y="534" font-size="10" fill="#222" text-anchor="middle" textLength="13.0" lengthAdjust="spacingAndGlyphs">40</text>
<text x="211.9" y="534" font-size="10" fill="#222" text-anchor="middle" textLength="13.0" lengthAdjust="spacingAndGlyphs">60</text>
<text x="265.2" y="534" font-size="10" fill="#222" text-anchor="middle" textLength="13.0" lengthAdjust="spacingAndGlyphs">80</text>
<text x="136.6" y="553.8" font-size="11.5" fill="#222" textLength="44.4" lengthAdjust="spacingAndGlyphs">Time (h)</text>
<text x="9.9" y="500.2" font-size="11.5" fill="#8a2be2" transform="rotate(-90 9.9 500.2)" textLength="133" lengthAdjust="spacingAndGlyphs">Produced formate (mM)</text>
<text x="298.5" y="376.4" font-size="11.6" fill="#2fc42f" transform="rotate(90 298.5 376.4)" textLength="115.2" lengthAdjust="spacingAndGlyphs">Productivity (mM h<tspan dy="-4.6" font-size="7.5">−1</tspan><tspan dy="4.6">)</tspan></text>
<polyline points="76,383.4 118.4,495 151.6,433.4 173,454.4 194.4,467.6 215.6,476 237.2,464" stroke="#333" stroke-width="0.7" fill="none"/>
<circle cx="76" cy="383.4" r="6.2" fill="#80f880" stroke="#1c1c1c" stroke-width="0.75"/>
<circle cx="118.4" cy="495" r="6.2" fill="#80f880" stroke="#1c1c1c" stroke-width="0.75"/>
<circle cx="151.6" cy="433.4" r="6.2" fill="#80f880" stroke="#1c1c1c" stroke-width="0.75"/>
<circle cx="173" cy="454.4" r="6.2" fill="#80f880" stroke="#1c1c1c" stroke-width="0.75"/>
<circle cx="194.4" cy="467.6" r="6.2" fill="#80f880" stroke="#1c1c1c" stroke-width="0.75"/>
<circle cx="215.6" cy="476" r="6.2" fill="#80f880" stroke="#1c1c1c" stroke-width="0.75"/>
<circle cx="237.2" cy="464" r="6.2" fill="#80f880" stroke="#1c1c1c" stroke-width="0.75"/>
<text x="81.0" y="357.8" font-size="8.7" fill="#8e8e8e" text-anchor="end" transform="rotate(-45 81.0 357.8)">20.9 °C</text>
<text x="117.6" y="357.8" font-size="8.7" fill="#8e8e8e" text-anchor="end" transform="rotate(-45 117.6 357.8)">20.7 °C</text>
<text x="153.6" y="357.8" font-size="8.7" fill="#8e8e8e" text-anchor="end" transform="rotate(-45 153.6 357.8)">15.1 °C</text>
<text x="174.0" y="357.8" font-size="8.7" fill="#8e8e8e" text-anchor="end" transform="rotate(-45 174.0 357.8)">15.6 °C</text>
<text x="197.0" y="357.8" font-size="8.7" fill="#8e8e8e" text-anchor="end" transform="rotate(-45 197.0 357.8)">14.8 °C</text>
<text x="218.4" y="357.8" font-size="8.7" fill="#8e8e8e" text-anchor="end" transform="rotate(-45 218.4 357.8)">14.9 °C</text>
<text x="238.0" y="357.8" font-size="8.7" fill="#8e8e8e" text-anchor="end" transform="rotate(-45 238.0 357.8)">15 °C</text>
<path d="M90,327.8 L236,327.8 L236,347 M171.8,327.8 L171.8,347 M195,327.8 L195,347 M216.4,327.8 L216.4,347 M90,332.6 L151.8,332.6 L151.8,347 M76.4,343 L76.4,347" stroke="#a08a3c" stroke-width="1" fill="none"/>
<path d="M90,336.4 L115.6,336.4 L115.6,347" stroke="#a08a3c" stroke-width="0.9" stroke-dasharray="1.8 1.4" fill="none"/>
<path d="M76.4,350.2 L74.5,346.0 L76.4,346.8 L78.30000000000001,346.0 Z" fill="#a08a3c"/>
<path d="M115.6,350.2 L113.69999999999999,346.0 L115.6,346.8 L117.5,346.0 Z" fill="#a08a3c"/>
<path d="M151.8,350.2 L149.9,346.0 L151.8,346.8 L153.70000000000002,346.0 Z" fill="#a08a3c"/>
<path d="M171.8,350.2 L169.9,346.0 L171.8,346.8 L173.70000000000002,346.0 Z" fill="#a08a3c"/>
<path d="M195,350.2 L193.1,346.0 L195,346.8 L196.9,346.0 Z" fill="#a08a3c"/>
<path d="M216.4,350.2 L214.5,346.0 L216.4,346.8 L218.3,346.0 Z" fill="#a08a3c"/>
<path d="M236,350.2 L234.1,346.0 L236,346.8 L237.9,346.0 Z" fill="#a08a3c"/>
<rect x="60.2" y="325.8" width="30.4" height="17.2" rx="2.6" fill="#a48e46" stroke="#8f7524" stroke-width="0.9"/>
<text x="75.4" y="338.9" font-size="10.4" fill="#f3e9cc" text-anchor="middle" textLength="19.6" lengthAdjust="spacingAndGlyphs">LDG</text>
<path d="M113.6,337.4 L117.6,341.4 M117.6,337.4 L113.6,341.4" stroke="#cf2f3f" stroke-width="1.15"/>
<text x="0" y="0" font-size="16.4" font-weight="bold" fill="#000" stroke="#000" stroke-width="0.5" transform="translate(366.6 312.3) scale(1.1 1)">c</text>
<text x="420.6" y="317.2" font-size="10" fill="#222" textLength="33.4" lengthAdjust="spacingAndGlyphs">Supply</text>
<rect x="418.2" y="350.6" width="53.8" height="167.4" fill="#fff6e2"/>
<rect x="472" y="350.6" width="64" height="167.4" fill="#fbe5d8"/>
<rect x="536" y="350.6" width="95.6" height="167.4" fill="#fae8ec"/>
<rect x="455.4" y="427" width="32.0" height="91" fill="#a64dff" stroke="#2a2440" stroke-width="0.8"/>
<rect x="519.4" y="412.5" width="32.2" height="105.5" fill="#a64dff" stroke="#2a2440" stroke-width="0.8"/>
<rect x="583.4" y="399.4" width="32.0" height="118.6" fill="#a64dff" stroke="#2a2440" stroke-width="0.8"/>
<path d="M418.2,350.6 L631.6,350.6 M418.2,518 L631.6,518 M418.2,350 L418.2,521.6 M631.6,350 L631.6,521.6" stroke="#9c9c9c" stroke-width="1.4" fill="none"/>
<path d="M414.2,518.0 L418.2,518.0 M414.2,490.1 L418.2,490.1 M414.2,462.2 L418.2,462.2 M414.2,434.3 L418.2,434.3 M414.2,406.4 L418.2,406.4 M414.2,378.5 L418.2,378.5 M414.2,350.6 L418.2,350.6 M631.6,518.0 L635.4,518.0 M631.6,476.15 L635.4,476.15 M631.6,434.3 L635.4,434.3 M631.6,392.45 L635.4,392.45 M631.6,350.6 L635.4,350.6 M471.4,518 L471.4,521.6 M524.6,518 L524.6,521.6 M577.8,518 L577.8,521.6 " stroke="#9c9c9c" stroke-width="1.2" fill="none"/>
<text x="409.6" y="521.6" font-size="10" fill="#222" text-anchor="end" textLength="6.5" lengthAdjust="spacingAndGlyphs">0</text>
<text x="409.6" y="493.7" font-size="10" fill="#222" text-anchor="end" textLength="13.0" lengthAdjust="spacingAndGlyphs">50</text>
<text x="409.6" y="465.8" font-size="10" fill="#222" text-anchor="end" textLength="19.5" lengthAdjust="spacingAndGlyphs">100</text>
<text x="409.6" y="437.9" font-size="10" fill="#222" text-anchor="end" textLength="19.5" lengthAdjust="spacingAndGlyphs">150</text>
<text x="409.6" y="410.0" font-size="10" fill="#222" text-anchor="end" textLength="19.5" lengthAdjust="spacingAndGlyphs">200</text>
<text x="409.6" y="382.1" font-size="10" fill="#222" text-anchor="end" textLength="19.5" lengthAdjust="spacingAndGlyphs">250</text>
<text x="409.6" y="354.2" font-size="10" fill="#222" text-anchor="end" textLength="19.5" lengthAdjust="spacingAndGlyphs">300</text>
<text x="640.4" y="521.6" font-size="10" fill="#222" textLength="6.5" lengthAdjust="spacingAndGlyphs">0</text>
<text x="640.4" y="479.75" font-size="10" fill="#222" textLength="13.0" lengthAdjust="spacingAndGlyphs">10</text>
<text x="640.4" y="437.9" font-size="10" fill="#222" textLength="13.0" lengthAdjust="spacingAndGlyphs">20</text>
<text x="640.4" y="396.05" font-size="10" fill="#222" textLength="13.0" lengthAdjust="spacingAndGlyphs">30</text>
<text x="640.4" y="354.2" font-size="10" fill="#222" textLength="13.0" lengthAdjust="spacingAndGlyphs">40</text>
<text x="418.0" y="534" font-size="10" fill="#222" text-anchor="middle" textLength="6.5" lengthAdjust="spacingAndGlyphs">0</text>
<text x="471.2" y="534" font-size="10" fill="#222" text-anchor="middle" textLength="6.5" lengthAdjust="spacingAndGlyphs">5</text>
<text x="524.4" y="534" font-size="10" fill="#222" text-anchor="middle" textLength="13.0" lengthAdjust="spacingAndGlyphs">10</text>
<text x="577.6" y="534" font-size="10" fill="#222" text-anchor="middle" textLength="13.0" lengthAdjust="spacingAndGlyphs">15</text>
<text x="630.8" y="534" font-size="10" fill="#222" text-anchor="middle" textLength="13.0" lengthAdjust="spacingAndGlyphs">20</text>
<text x="502" y="553.6" font-size="11.5" fill="#222" textLength="45.6" lengthAdjust="spacingAndGlyphs">Time (h)</text>
<text x="376.8" y="500.2" font-size="11.5" fill="#8a2be2" transform="rotate(-90 376.8 500.2)" textLength="133" lengthAdjust="spacingAndGlyphs">Produced formate (mM)</text>
<text x="666.5" y="376.4" font-size="11.6" fill="#2fc42f" transform="rotate(90 666.5 376.4)" textLength="115.2" lengthAdjust="spacingAndGlyphs">Productivity (mM h<tspan dy="-4.6" font-size="7.5">−1</tspan><tspan dy="4.6">)</tspan></text>
<text x="447.5" y="515.2" font-size="9.5" fill="#c9a227" transform="rotate(-90 447.5 515.2)" textLength="11.6" lengthAdjust="spacingAndGlyphs">1st</text>
<text x="511.9" y="515.2" font-size="9.5" fill="#ee8a45" transform="rotate(-90 511.9 515.2)" textLength="17.2" lengthAdjust="spacingAndGlyphs">2nd</text>
<text x="575.6" y="515.2" font-size="9.5" fill="#d9577a" transform="rotate(-90 575.6 515.2)" textLength="15.2" lengthAdjust="spacingAndGlyphs">3rd</text>
<polyline points="418.2,518 471.4,427 471.4,518 535.4,412.5 535.4,518 599,399.4" stroke="#7a2fd6" stroke-width="0.8" fill="none"/>
<path d="M411.4,514.4 L425.0,514.4 L418.2,524.8 Z" fill="#fff" stroke="#8a3be0" stroke-width="0.8" stroke-linejoin="miter"/>
<path d="M464.59999999999997,423.4 L478.2,423.4 L471.4,433.8 Z" fill="#fff" stroke="#8a3be0" stroke-width="0.8" stroke-linejoin="miter"/>
<path d="M464.59999999999997,514.4 L478.2,514.4 L471.4,524.8 Z" fill="#fff" stroke="#8a3be0" stroke-width="0.8" stroke-linejoin="miter"/>
<path d="M528.6,408.9 L542.1999999999999,408.9 L535.4,419.3 Z" fill="#fff" stroke="#8a3be0" stroke-width="0.8" stroke-linejoin="miter"/>
<path d="M528.6,514.4 L542.1999999999999,514.4 L535.4,524.8 Z" fill="#fff" stroke="#8a3be0" stroke-width="0.8" stroke-linejoin="miter"/>
<path d="M592.2,395.79999999999995 L605.8,395.79999999999995 L599,406.2 Z" fill="#fff" stroke="#8a3be0" stroke-width="0.8" stroke-linejoin="miter"/>
<polyline points="471.2,381 535.4,386 599,369.6" stroke="#333" stroke-width="0.7" fill="none"/>
<circle cx="471.2" cy="381" r="6.2" fill="#80f880" stroke="#1c1c1c" stroke-width="0.75"/>
<circle cx="535.4" cy="386" r="6.2" fill="#80f880" stroke="#1c1c1c" stroke-width="0.75"/>
<circle cx="599" cy="369.6" r="6.2" fill="#80f880" stroke="#1c1c1c" stroke-width="0.75"/>
<text x="470.6" y="361.4" font-size="8.2" fill="#9a9a9a" text-anchor="middle" textLength="26.6" lengthAdjust="spacingAndGlyphs">13.8 °C</text>
<text x="533" y="361.4" font-size="8.2" fill="#9a9a9a" text-anchor="middle" textLength="26.6" lengthAdjust="spacingAndGlyphs">15.7 °C</text>
<text x="596.4" y="361.4" font-size="8.2" fill="#9a9a9a" text-anchor="middle" textLength="26.6" lengthAdjust="spacingAndGlyphs">16.1 °C</text>
<path d="M457,330.8 L599.6,330.8 L599.6,346 M457,333.6 L536,333.6 L536,346 M457,336.6 L472,336.6 L472,346" stroke="#a08a3c" stroke-width="1" fill="none"/>
<path d="M472,349.6 L470.1,345.40000000000003 L472,346.20000000000005 L473.9,345.40000000000003 Z" fill="#a08a3c"/>
<path d="M536,349.6 L534.1,345.40000000000003 L536,346.20000000000005 L537.9,345.40000000000003 Z" fill="#a08a3c"/>
<path d="M599.6,349.6 L597.7,345.40000000000003 L599.6,346.20000000000005 L601.5,345.40000000000003 Z" fill="#a08a3c"/>
<rect x="427.2" y="326" width="30.6" height="17" rx="2.6" fill="#a48e46" stroke="#8f7524" stroke-width="0.9"/>
<text x="442.5" y="339" font-size="10.4" fill="#f3e9cc" text-anchor="middle" textLength="19.6" lengthAdjust="spacingAndGlyphs">LDG</text>
</svg>
</body></html>
